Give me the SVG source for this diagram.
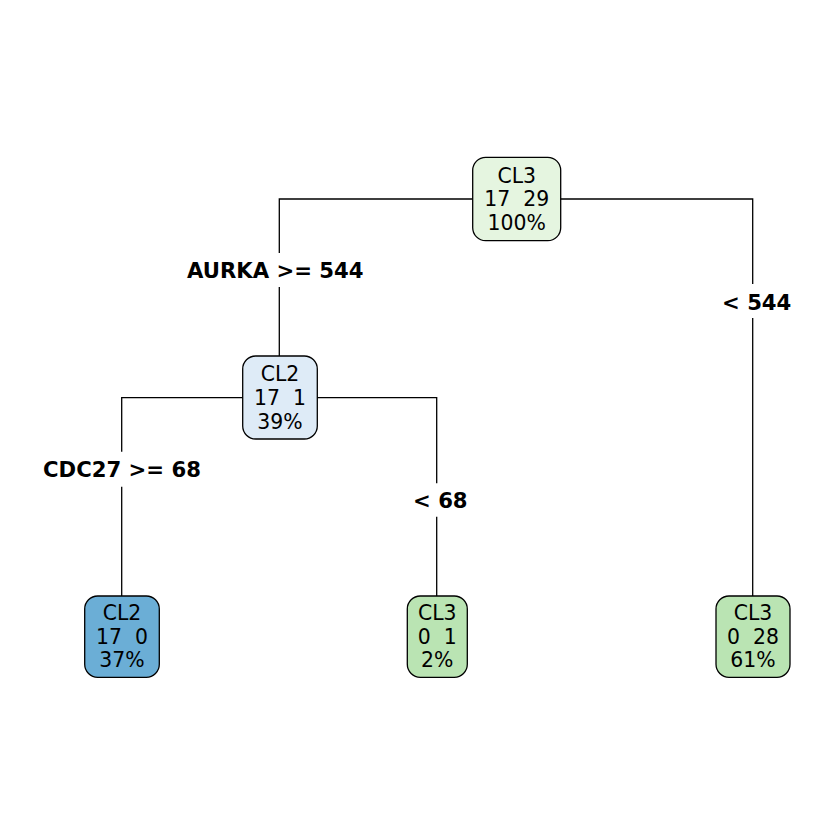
<svg xmlns="http://www.w3.org/2000/svg" width="840" height="840" viewBox="0 0 840 840">
<style>
.box{stroke:#000;stroke-width:1.3}
.t{font-family:"DejaVu Sans",sans-serif;font-size:20.4px;text-anchor:middle;fill:#000;white-space:pre}
.lbl{font-family:"DejaVu Sans",sans-serif;font-size:21.2px;font-weight:bold;fill:#000;white-space:pre}
.c{stroke:#000;stroke-width:1.3;fill:none}
</style>
<rect width="840" height="840" fill="#fff"/>
<g id="connectors">
<path class="c" d="M279.3,253 V199 H752.7 V284"/>
<path class="c" d="M279.3,287 V356"/>
<path class="c" d="M752.7,318 V596"/>
<path class="c" d="M121.7,451.7 V397.7 H436.7 V483.3"/>
<path class="c" d="M121.7,486.7 V596"/>
<path class="c" d="M436.7,516.7 V596"/>
<text class="lbl" x="187" y="277.5">AURKA &gt;= 544</text>
<text class="lbl" x="722" y="309.5">&lt; 544</text>
<text class="lbl" x="43" y="477">CDC27 &gt;= 68</text>
<text class="lbl" x="413" y="508">&lt; 68</text>
</g>
<g id="node1">
<rect class="box" x="472.7" y="157.3" width="88" height="83.4" rx="13" fill="#E5F5E0"/>
<text class="t" x="516.7" y="182.6">CL3</text>
<text class="t" x="516.7" y="206.3">17  29</text>
<text class="t" x="516.7" y="230.2">100%</text>
</g>
<g id="node2">
<rect class="box" x="242.7" y="356" width="74.6" height="83" rx="13" fill="#DEEBF7"/>
<text class="t" x="280" y="381.3">CL2</text>
<text class="t" x="280" y="405.1">17  1</text>
<text class="t" x="280" y="429">39%</text>
</g>
<g id="node4">
<rect class="box" x="84.7" y="596" width="74.6" height="81.3" rx="13" fill="#6BAED6"/>
<text class="t" x="122" y="619.8">CL2</text>
<text class="t" x="122" y="643.6">17  0</text>
<text class="t" x="122" y="667.4">37%</text>
</g>
<g id="node5">
<rect class="box" x="407.3" y="596" width="60" height="81.3" rx="13" fill="#BAE4B3"/>
<text class="t" x="437.3" y="619.8">CL3</text>
<text class="t" x="437.3" y="643.6">0  1</text>
<text class="t" x="437.3" y="667.4">2%</text>
</g>
<g id="node3">
<rect class="box" x="716" y="596" width="74" height="81.3" rx="13" fill="#BAE4B3"/>
<text class="t" x="753" y="619.8">CL3</text>
<text class="t" x="753" y="643.6">0  28</text>
<text class="t" x="753" y="667.4">61%</text>
</g>
</svg>
